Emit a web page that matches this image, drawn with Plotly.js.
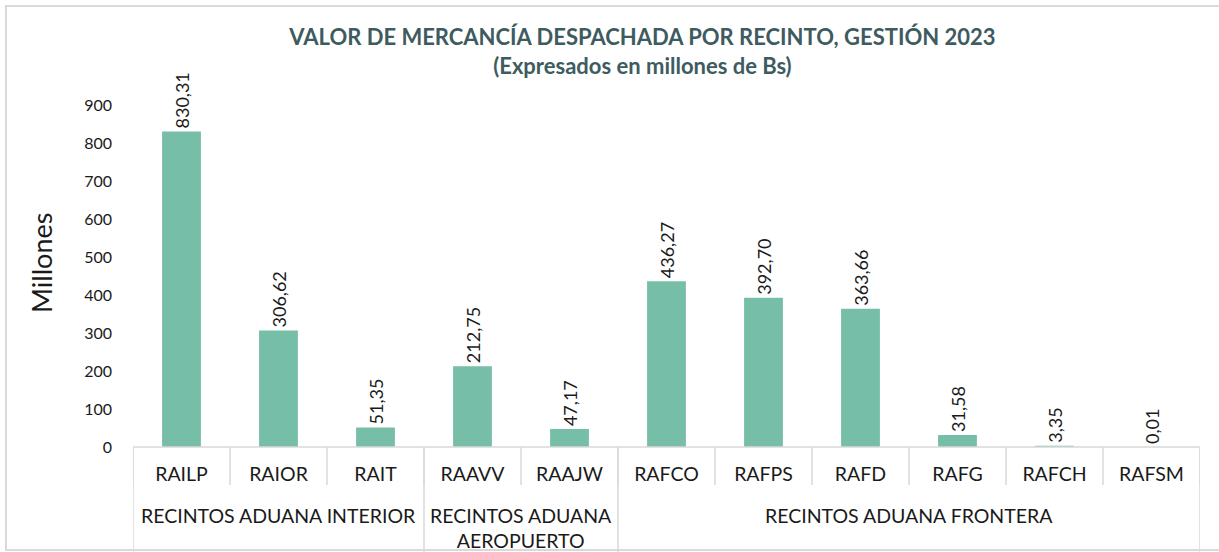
<!DOCTYPE html>
<html>
<head>
<meta charset="utf-8">
<script src="https://cdn.plot.ly/plotly-3.0.1.min.js"></script>
<style>html,body{margin:0;padding:0;background:#fff;}#chart{width:1219px;height:552px;}</style>
</head>
<body>
<div id="chart"></div>
<script>
const categories = ["RAILP","RAIOR","RAIT","RAAVV","RAAJW","RAFCO","RAFPS","RAFD","RAFG","RAFCH","RAFSM"];
const values = [830.31, 306.62, 51.35, 212.75, 47.17, 436.27, 392.70, 363.66, 31.58, 3.35, 0.01];
const groups = ["RECINTOS ADUANA INTERIOR", "RECINTOS ADUANA<br>AEROPUERTO", "RECINTOS ADUANA FRONTERA"];
const groupSizes = [3, 2, 6];
const yTicks = [0,100,200,300,400,500,600,700,800,900];

const W = 1219, H = 552;
const L = 133, R = 19, T = 105, B = 105;
const plotH = H - T - B;
function py(pix){ return (H - B - pix) / plotH; }
function pxp(pix){ return (pix - L) / (W - L - R); }

const FONT = "Lato, 'Open Sans', sans-serif";
const lineColor = "#d9d9d9";
const shapes = [];
const annotations = [];
shapes.push({type:"line", xref:"paper", yref:"paper", x0:0, x1:1, y0:0, y1:0, line:{color:lineColor, width:1.5}});
for (let i = 0; i <= categories.length; i++) {
  shapes.push({type:"line", xref:"x", yref:"paper", x0:i-0.5, x1:i-0.5, y0:0, y1:py(485), line:{color:lineColor, width:1.5}});
}
let start = 0;
const bounds = [-0.5];
groupSizes.forEach((n, gi) => {
  const mid = start + (n - 1) / 2;
  const twoLine = groups[gi].indexOf("<br>") >= 0;
  annotations.push({xref:"x", yref:"paper", x:mid, y: twoLine ? py(528) : py(515), text:groups[gi], showarrow:false,
    font:{family:FONT, size:19.5, color:"#1a1a1a"}, xanchor:"center", yanchor:"middle"});
  start += n;
  bounds.push(start - 0.5);
});
bounds.forEach(b => {
  shapes.push({type:"line", xref:"x", yref:"paper", x0:b, x1:b, y0:0, y1:py(553), line:{color:lineColor, width:1.5}});
});
shapes.push({type:"rect", xref:"paper", yref:"paper", x0:pxp(6), x1:pxp(1230), y0:py(550), y1:py(6), line:{color:"#d9d9d9", width:2}, fillcolor:"rgba(0,0,0,0)", layer:"below"});

annotations.push({xref:"paper", yref:"paper", x:pxp(41), y:py(263), text:"Millones", textangle:-90, showarrow:false,
  font:{family:FONT, size:27, color:"#1a1a1a"}, xanchor:"center", yanchor:"middle"});

const trace = {
  type:"bar",
  x: categories,
  y: values,
  marker:{color:"#76bea8"},
  texttemplate:"%{y:.2f}",
  textposition:"outside",
  textangle:-90,
  constraintext:"none",
  cliponaxis:false,
  textfont:{family:FONT, size:18, color:"#1a1a1a"},
  hoverinfo:"skip"
};

const layout = {
  width: W, height: H,
  margin:{l:L, r:R, t:T, b:B, pad:0},
  paper_bgcolor:"#fff", plot_bgcolor:"#fff",
  separators:",.",
  showlegend:false,
  bargap:0.6,
  title:{
    text:"<b>VALOR DE MERCANCÍA DESPACHADA POR RECINTO, GESTIÓN 2023</b><br><b>(Expresados en millones de Bs)</b>",
    font:{family:FONT, size:22, color:"#3e5b60"},
    x:0.527, xanchor:"center", y:0.918, yanchor:"middle"
  },
  xaxis:{
    type:"category",
    showline:false, showgrid:false, zeroline:false, ticks:"",
    ticklabelstandoff:13,
    tickfont:{family:FONT, size:19.5, color:"#1a1a1a"},
    range:[-0.5, categories.length - 0.5]
  },
  yaxis:{
    range:[0, 900],
    tickvals:yTicks,
    showline:false, showgrid:false, zeroline:false, ticks:"",
    ticklabelstandoff:20,
    tickfont:{family:FONT, size:16, color:"#1a1a1a"}
  },
  shapes: shapes,
  annotations: annotations
};

Plotly.newPlot("chart", [trace], layout, {displayModeBar:false, staticPlot:true});
</script>
</body>
</html>
